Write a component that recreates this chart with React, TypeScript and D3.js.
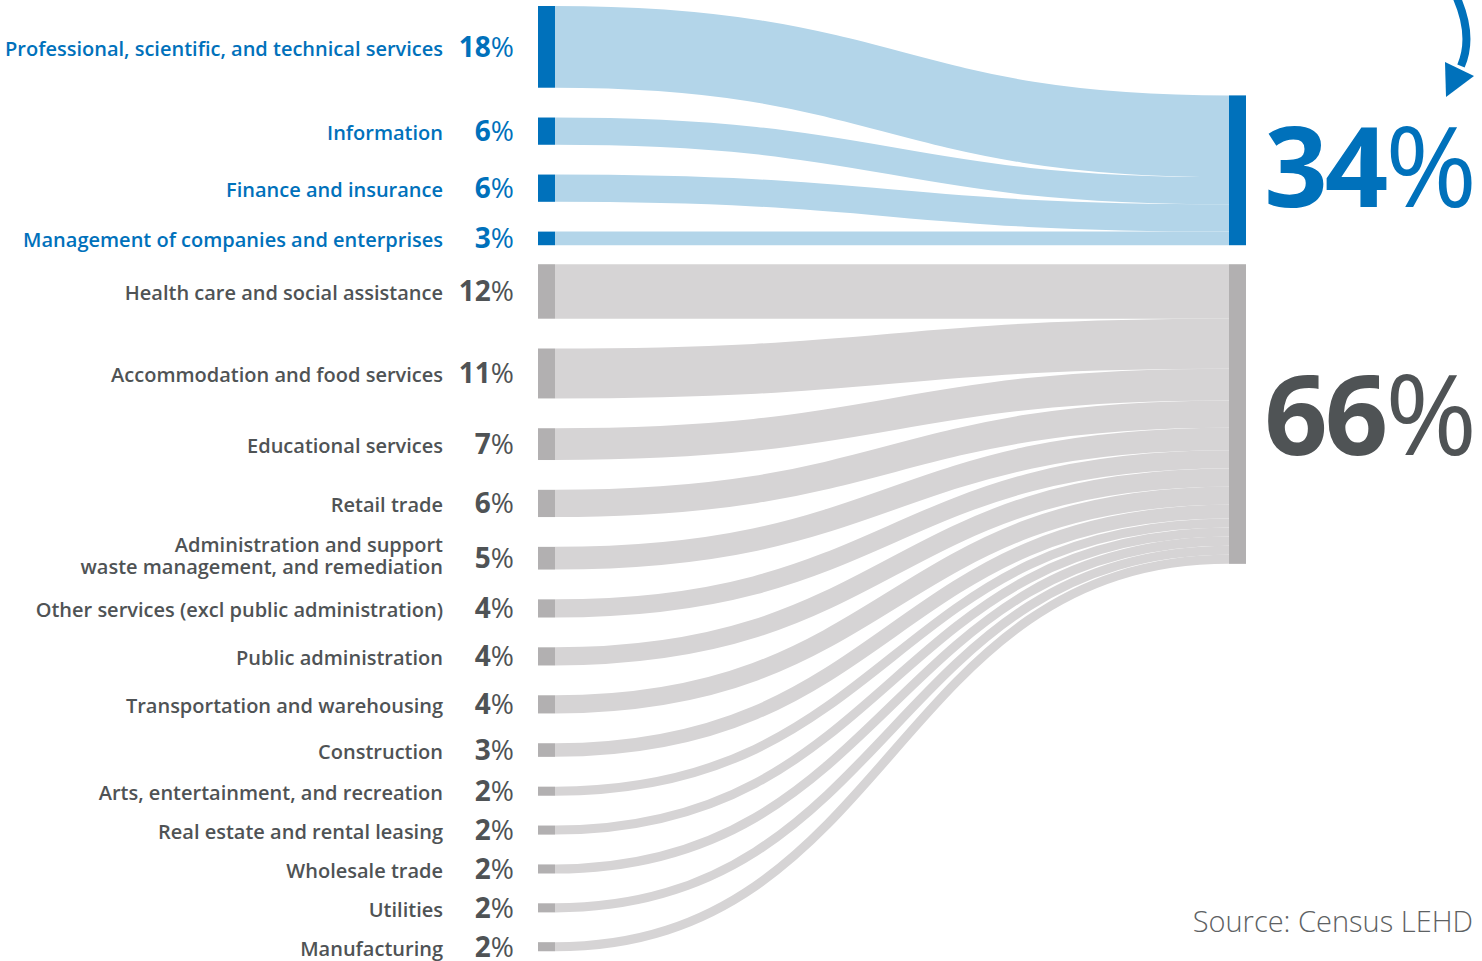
import React from "react";
import * as d3 from "d3";

const industries: string[][] = [
  ["Professional, scientific, and technical services"],
  ["Information"],
  ["Finance and insurance"],
  ["Management of companies and enterprises"],
  ["Health care and social assistance"],
  ["Accommodation and food services"],
  ["Educational services"],
  ["Retail trade"],
  ["Administration and support", "waste management, and remediation"],
  ["Other services (excl public administration)"],
  ["Public administration"],
  ["Transportation and warehousing"],
  ["Construction"],
  ["Arts, entertainment, and recreation"],
  ["Real estate and rental leasing"],
  ["Wholesale trade"],
  ["Utilities"],
  ["Manufacturing"],
];
const shares: number[] = [18, 6, 6, 3, 12, 11, 7, 6, 5, 4, 4, 4, 3, 2, 2, 2, 2, 2];
const groupOf: number[] = [0, 0, 0, 0, 1, 1, 1, 1, 1, 1, 1, 1, 1, 1, 1, 1, 1, 1];
const groupLabels: string[] = ["34", "66"];
const sourceNote = "Source: Census LEHD";

const W = 1482;
const H = 961;
const FONT = "'Open Sans', 'Noto Sans', sans-serif";

const groupNodeColor = ["#0071bb", "#b2b0b1"];
const groupLinkColor = ["#b3d5e9", "#d6d4d5"];
const groupTextColor = ["#0071bb", "#4f5355"];
const groupBigColor = ["#0071bb", "#4f5355"];

export default function App() {
  const k = 4.54; // px per percent
  const h = d3.scaleLinear().domain([0, 1]).range([0, k]);
  const gap = 29.8;
  const groupGap = 19;
  const top = 6;
  const xL0 = 538, xL1 = 555, xR0 = 1229, xR1 = 1246;

  const nodes: { y0: number; y1: number; g: number; v: number; i: number }[] = [];
  let y = top;
  shares.forEach((v, i) => {
    if (i > 0) y += groupOf[i] !== groupOf[i - 1] ? groupGap : gap;
    const hh = h(v);
    nodes.push({ y0: y, y1: y + hh, g: groupOf[i], v, i });
    y += hh;
  });

  const totals = [0, 1].map((g) => d3.sum(shares.filter((_, i) => groupOf[i] === g)));
  const firstIdx = [0, 1].map((g) => groupOf.indexOf(g));
  const lastIdx = [0, 1].map((g) => groupOf.lastIndexOf(g));
  const right = [
    { y0: nodes[lastIdx[0]].y1 - h(totals[0]), y1: nodes[lastIdx[0]].y1 },
    { y0: nodes[firstIdx[1]].y0, y1: nodes[firstIdx[1]].y0 + h(totals[1]) },
  ];

  const offs = [right[0].y0, right[1].y0];
  const links = nodes.map((n) => {
    const hh = h(n.v);
    const ty = offs[n.g] + hh / 2;
    offs[n.g] += hh;
    return { source: [xL1, (n.y0 + n.y1) / 2] as [number, number], target: [xR0, ty] as [number, number], w: hh, g: n.g };
  });
  const linkGen = d3
    .linkHorizontal<any, [number, number]>()
    .source((d: any) => d.source)
    .target((d: any) => d.target);

  const lh = 22;

  return (
    <svg width={W} height={H} style={{ position: "absolute", left: 0, top: 0, background: "#fff" }}>
      {links
        .slice()
        .reverse()
        .map((l, i) => (
          <path key={i} d={linkGen(l as any) || ""} fill="none" stroke={groupLinkColor[l.g]} strokeWidth={l.w} />
        ))}
      {nodes.map((n) => (
        <rect key={n.i} x={xL0} y={n.y0} width={xL1 - xL0} height={n.y1 - n.y0} fill={groupNodeColor[n.g]} />
      ))}
      {right.map((r, g) => (
        <rect key={g} x={xR0} y={r.y0} width={xR1 - xR0} height={r.y1 - r.y0} fill={groupNodeColor[g]} />
      ))}
      {nodes.map((n) => {
        const cy = (n.y0 + n.y1) / 2;
        const lines = industries[n.i];
        const first = lines.length > 1 ? (-(lines.length - 1) * lh) / 2 + 5 : 9;
        return (
          <g key={"t" + n.i} fontFamily={FONT}>
            {lines.map((ln, j) => (
              <text
                key={j}
                x={443}
                y={cy + first + j * lh}
                textAnchor="end"
                fontSize={20}
                fontWeight={600}
                fill={groupTextColor[n.g]}
              >
                {ln}
              </text>
            ))}
            <text x={514} y={cy + 10} textAnchor="end" fontSize={28} fontWeight={700} fill={groupTextColor[n.g]}>
              {n.v}
              <tspan fontWeight={400}>%</tspan>
            </text>
          </g>
        );
      })}
      {right.map((r, g) => (
        <text
          key={"b" + g}
          x={1474}
          y={g === 0 ? 207 : 455}
          textAnchor="end"
          fontFamily={FONT}
          fontSize={111}
          fontWeight={700}
          fill={groupBigColor[g]}
          letterSpacing={-3}
        >
          {groupLabels[g]}
          <tspan fontWeight={400}>%</tspan>
        </text>
      ))}
      <path d="M1456,-4 Q1474,36 1461,66" fill="none" stroke="#0071bb" strokeWidth={8} />
      <polygon points="1445,62 1474,76 1446,97" fill="#0071bb" />
      <text x={1473} y={932} textAnchor="end" fontFamily={FONT} fontSize={29} fontWeight={300} fill="#5d6163">
        {sourceNote}
      </text>
    </svg>
  );
}
